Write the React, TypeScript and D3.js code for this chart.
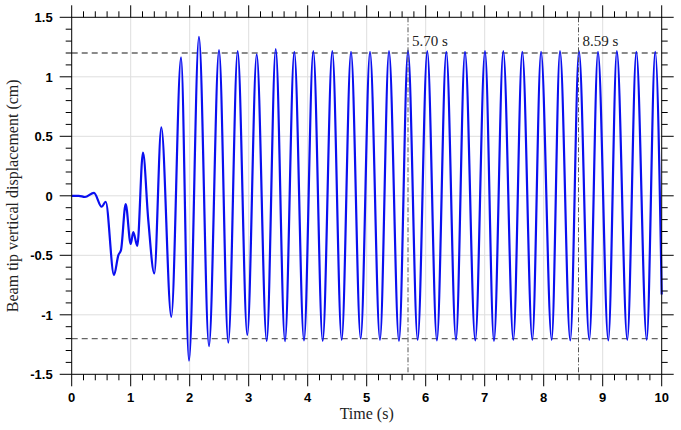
import React from "react";
import * as d3 from "d3";

// start-up transient (time s, displacement cm)
const transientT = [0, 0.12, 0.225, 0.378, 0.508, 0.576, 0.717, 0.79, 0.836, 0.915, 1.0, 1.044, 1.112, 1.208, 1.298, 1.4, 1.519, 1.688, 1.853];
const transientV = [0, 0, -0.01, 0.025, -0.092, -0.05, -0.666, -0.5, -0.455, -0.07, -0.405, -0.305, -0.42, 0.364, -0.204, -0.652, 0.575, -1.017, 1.163];

// local maxima of the steady oscillation
const peakT = [2.157, 2.497, 2.813, 3.136, 3.458, 3.773, 4.095, 4.417, 4.734, 5.056, 5.378, 5.7, 6.027, 6.349, 6.666, 7.005, 7.315, 7.637, 7.955, 8.276, 8.598, 8.92, 9.24, 9.57, 9.89];
const peakV = [1.336, 1.224, 1.216, 1.188, 1.233, 1.21, 1.215, 1.215, 1.21, 1.21, 1.215, 1.22, 1.215, 1.21, 1.21, 1.215, 1.215, 1.21, 1.21, 1.215, 1.215, 1.21, 1.215, 1.21, 1.21];

// local minima
const troughT = [1.988, 2.327, 2.654, 2.976, 3.305, 3.615, 3.937, 4.254, 4.576, 4.898, 5.225, 5.547, 5.864, 6.19, 6.513, 6.84, 7.157, 7.485, 7.807, 8.135, 8.45, 8.773, 9.095, 9.417, 9.746];
const troughV = [-1.386, -1.263, -1.235, -1.17, -1.221, -1.221, -1.215, -1.22, -1.21, -1.2, -1.21, -1.22, -1.21, -1.215, -1.21, -1.215, -1.22, -1.21, -1.21, -1.21, -1.215, -1.21, -1.215, -1.21, -1.21];

const endT = [10];
const endV = [-0.83];

const bandLevels = [1.2, -1.2];
const markerTimes = [5.7, 8.59];
const markerLabels = ["5.70 s", "8.59 s"];

const xTicks = [0, 1, 2, 3, 4, 5, 6, 7, 8, 9, 10];
const yTicks = [-1.5, -1, -0.5, 0, 0.5, 1, 1.5];

const W = 681;
const H = 430;
const m = { left: 71.7, right: 681 - 661.7, top: 17.3, bottom: 430 - 374.3 };

export default function App() {
  const x = d3.scaleLinear().domain([0, 10]).range([m.left, W - m.right]);
  const y = d3.scaleLinear().domain([-1.5, 1.5]).range([H - m.bottom, m.top]);

  const pts: [number, number][] = [
    ...transientT.map((t, i) => [t, transientV[i]] as [number, number]),
    ...peakT.map((t, i) => [t, peakV[i]] as [number, number]),
    ...troughT.map((t, i) => [t, troughV[i]] as [number, number]),
    ...endT.map((t, i) => [t, endV[i]] as [number, number]),
  ].sort((a, b) => a[0] - b[0]);

  const line = d3
    .line<[number, number]>()
    .x((d) => x(d[0]))
    .y((d) => y(d[1]))
    .curve(d3.curveMonotoneX);

  const [x0, x1] = x.range();
  const [yb, yt] = y.range();

  const xMinor = d3.range(0, 10.001, 0.2).filter((v) => Math.abs(v - Math.round(v)) > 1e-6);
  const yMinor = d3.range(-1.5, 1.5001, 0.1).filter((v) => Math.abs(v * 2 - Math.round(v * 2)) > 1e-6);

  const tickFont = { fontFamily: "Liberation Sans, Arial, sans-serif", fontWeight: 700, fontSize: 13 };
  const serif = { fontFamily: "Liberation Serif, Times New Roman, serif" };

  return (
    <svg width={W} height={H} style={{ position: "absolute", left: 0, top: 0, background: "#fff" }}>
      {/* grid */}
      {xTicks.slice(1, -1).map((t) => (
        <line key={"gx" + t} x1={x(t)} x2={x(t)} y1={yt} y2={yb} stroke="#dedede" strokeWidth={1} />
      ))}
      {yTicks.slice(1, -1).map((t) => (
        <line key={"gy" + t} x1={x0} x2={x1} y1={y(t)} y2={y(t)} stroke="#dedede" strokeWidth={1} />
      ))}

      {/* ±1.2 limits */}
      {bandLevels.map((b) => (
        <line key={"b" + b} x1={x0} x2={x1} y1={y(b)} y2={y(b)} stroke="#666" strokeWidth={1.3} strokeDasharray="6,4" />
      ))}

      <path d={line(pts) ?? ""} fill="none" stroke="#0a0ff0" strokeWidth={2.2} strokeLinejoin="round" />

      {/* time markers */}
      {markerTimes.map((t, i) => (
        <g key={"m" + t}>
          <line x1={x(t)} x2={x(t)} y1={yt} y2={yb} stroke="#555" strokeWidth={1} strokeDasharray="5,2,1,2" />
          <text x={x(t) + 4} y={46} fontSize={15} style={serif} fill="#222">
            {markerLabels[i]}
          </text>
        </g>
      ))}

      {/* frame */}
      <rect x={x0} y={yt} width={x1 - x0} height={yb - yt} fill="none" stroke="#000" strokeWidth={1} />

      {/* x ticks bottom & top */}
      {xTicks.map((t) => (
        <g key={"xt" + t}>
          <line x1={x(t)} x2={x(t)} y1={yb} y2={yb + 12} stroke="#000" />
          <line x1={x(t)} x2={x(t)} y1={yt} y2={yt - 12} stroke="#000" />
          <text x={x(t)} y={yb + 28} textAnchor="middle" style={tickFont}>
            {t}
          </text>
        </g>
      ))}
      {xMinor.map((t) => (
        <g key={"xm" + t}>
          <line x1={x(t)} x2={x(t)} y1={yb} y2={yb + 6} stroke="#000" />
          <line x1={x(t)} x2={x(t)} y1={yt} y2={yt - 6} stroke="#000" />
        </g>
      ))}

      {/* y ticks left & right */}
      {yTicks.map((t) => (
        <g key={"yt" + t}>
          <line x1={x0} x2={x0 - 12} y1={y(t)} y2={y(t)} stroke="#000" />
          <line x1={x1} x2={x1 + 12} y1={y(t)} y2={y(t)} stroke="#000" />
          <text x={x0 - 19} y={y(t) + 5} textAnchor="end" style={tickFont}>
            {t}
          </text>
        </g>
      ))}
      {yMinor.map((t) => (
        <g key={"ym" + t.toFixed(2)}>
          <line x1={x0} x2={x0 - 6} y1={y(t)} y2={y(t)} stroke="#000" />
          <line x1={x1} x2={x1 + 6} y1={y(t)} y2={y(t)} stroke="#000" />
        </g>
      ))}

      {/* axis titles */}
      <text x={(x0 + x1) / 2} y={419} textAnchor="middle" fontSize={16} style={serif} fill="#222">
        Time (s)
      </text>
      <text
        transform={`translate(18,${(yt + yb) / 2}) rotate(-90)`}
        textAnchor="middle"
        fontSize={16}
        style={serif}
        fill="#222"
      >
        Beam tip vertical displacement (cm)
      </text>
    </svg>
  );
}
